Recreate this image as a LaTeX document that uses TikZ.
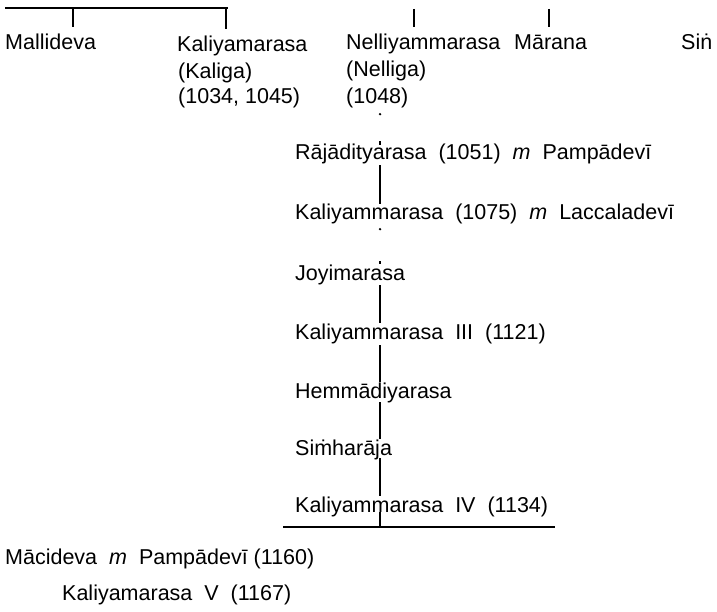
\documentclass[tikz,border=0pt]{standalone}
\usepackage{fontspec}
\setmainfont{Liberation Sans}
\usepackage{tikz}

\begin{document}
\begin{tikzpicture}[x=1pt,y=-1pt]
					\tikzstyle{ruler}=[anchor=base west,inner sep=0pt,text height=15.5pt,text depth=0pt,font=\fontsize{21.5}{26}\selectfont]
					\tikzstyle{every node}=[ruler]
					\tikzstyle{tick}=[line width=1.7pt]
					\tikzstyle{bar}=[line width=1.2pt]
					\useasboundingbox (0,0) rectangle (717,612);
					\coordinate (trunk) at (380,0);

					% top generation
					\node (malli) at (5,50) {Mallideva};
					\node (kali) at (177,52) {Kaliyamarasa};
					\node (kaliga) at (178,79) {(Kaliga)};
					\node (kalidate) at (178,104) {(1034, 1045)};
					\node (nelli) at (346,50) {Nelliyammarasa};
					\node (nelliga) at (346,77) {(Nelliga)};
					\node (nellidate) at (346,104) {(1048)};
					\node (marana) at (514,50) {Mārana};
					\node (sinha) at (681,50) {Siṅ};
					\coordinate (top) at (5,8);
					\coordinate (topend) at (228,8);
					\draw[bar] (top) -- (topend);
					\foreach \x/\n in {73/malli,226/kali,414/nelli,549/marana}
						\draw[tick] (\x,9) -- ([yshift=7pt]\n.north -| \x,0);

					% line of Nelliga
					\node (raja) at (295,160) {Rājādityarasa\ \ (1051)\ \ \textit{m}\ \ Pampādevī};
					\node (kal2) at (295,220) {Kaliyammarasa\ \ (1075)\ \ \textit{m}\ \ Laccaladevī};
					\node (joyi) at (295,280) {Joyimarasa};
					\node (kal3) at (295,339) {Kaliyammarasa\ \ III\ \ (1121)};
					\node (hemma) at (295,398) {Hemmādiyarasa};
					\node (simha) at (295,455) {Siṁharāja};
					\node (kal4) at (295,512) {Kaliyammarasa\ \ IV\ \ (1134)};
					\node (maci) at (5,564) {Mācideva\ \ \textit{m}\ \ Pampādevī (1160)};
					\node (kal5) at (62,600) {Kaliyamarasa\ \ V\ \ (1167)};

					\fill ([yshift=-10pt]nellidate.south -| trunk) circle (1.3pt);
					\draw[tick] ([yshift=3pt]raja.north -| trunk) -- ++(0,4);
					\fill ([yshift=-9pt]kal2.south -| trunk) circle (1.3pt);
					\draw[tick] ([yshift=3pt]joyi.north -| trunk) -- ++(0,3);
					\draw[tick] ([yshift=-5pt]raja.south -| trunk) -- (kal2.north -| trunk);
					\draw[tick] ([yshift=-5pt]joyi.south -| trunk) -- (kal3.north -| trunk);
					\draw[tick] ([yshift=-6pt]kal3.south -| trunk) -- (hemma.north -| trunk);
					\draw[tick] ([yshift=-4pt]hemma.south -| trunk) -- (simha.north -| trunk);
					\draw[tick] ([yshift=-3pt]simha.south -| trunk) -- (kal4.north -| trunk);
					\coordinate (foot) at (283,527);
					\coordinate (footend) at (555,527);
					\draw[tick] (kal4.south -| trunk) -- (foot -| trunk);
					\draw[bar] (foot) -- (footend);
\end{tikzpicture}
\end{document}
